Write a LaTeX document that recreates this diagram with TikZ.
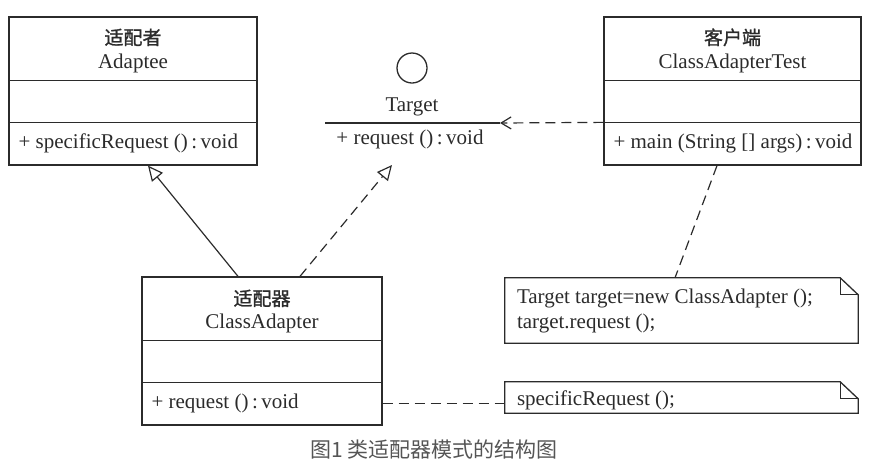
\documentclass[tikz,border=0pt]{standalone}
\usepackage{fontspec}
\setmainfont{Liberation Serif}
\newfontfamily\cjk{Noto Sans CJK SC}
\newfontfamily\cjktitle{Noto Sans CJK SC}[FakeBold=1.2]
\usetikzlibrary{arrows.meta,calc,positioning}
\definecolor{umlInk}{HTML}{2B2B2B}
\definecolor{umlCap}{HTML}{555555}
\tikzset{
  umlbox/.style={draw=umlInk,line width=1.3pt,minimum height=148pt,inner sep=0pt},
  umlsep/.style={draw=umlInk,line width=1.3pt},
  umlcn/.style={font=\cjktitle\fontsize{19}{22}\selectfont,text=umlInk,inner sep=1pt},
  umlname/.style={font=\fontsize{21}{25}\selectfont,text=umlInk,inner sep=1pt},
  umlop/.style={umlname,anchor=west},
  umlinherit/.style={-{Triangle[open,length=15pt,width=14pt]},line width=1.2pt,umlInk},
  umlrealize/.style={umlinherit,dash pattern=on 10pt off 6pt},
  umldepend/.style={-{Straight Barb[length=10pt,width=12pt]},line width=1.2pt,umlInk,
                    dash pattern=on 10pt off 6pt},
  umlanchor/.style={line width=1.2pt,umlInk,dash pattern=on 10pt off 6pt},
  umlnote/.style={minimum width=353pt,inner sep=0pt},
  umlcaption/.style={font=\cjk\fontsize{21}{25}\selectfont,text=umlCap}
}

\begin{document}
\begin{tikzpicture}[x=1pt,y=-1pt]
  \useasboundingbox (0,0) rectangle (870,475);

  % adaptee
  \node[umlbox,minimum width=248pt] (adaptee) at (133,91) {};
  \draw[umlsep] ($(adaptee.north west)+(0,64)$) -- ($(adaptee.north east)+(0,64)$);
  \draw[umlsep] ($(adaptee.north west)+(0,106)$) -- ($(adaptee.north east)+(0,106)$);
  \node[umlcn] (adapteecn) at ($(adaptee.north)+(0,21)$) {适配者};
  \node[umlname] (adapteename) at ($(adaptee.north)+(0,47)$) {Adaptee};
  \node[umlop] (adapteeop) at ($(adaptee.north west)+(9,127)$)
    {+ specificRequest ()\,:\,void};

  % target interface (lollipop)
  \node[circle,draw=umlInk,line width=1.3pt,minimum size=30pt,inner sep=0pt]
    (tgtball) at (412,68) {};
  \node[umlname] (tgtname) at (412,107) {Target};
  \coordinate (tgtleft) at (325,123);
  \coordinate (tgtright) at (500,123);
  \draw[umlsep] (tgtleft) -- (tgtright);
  \node[umlname] (tgtop) at (410,139) {+ request ()\,:\,void};
  \coordinate (tgtfoot) at (392,165);

  % client
  \node[umlbox,minimum width=257pt] (client) at (732.5,91) {};
  \draw[umlsep] ($(client.north west)+(0,64)$) -- ($(client.north east)+(0,64)$);
  \draw[umlsep] ($(client.north west)+(0,106)$) -- ($(client.north east)+(0,106)$);
  \node[umlcn] (clientcn) at ($(client.north)+(0,21)$) {客户端};
  \node[umlname] (clientname) at ($(client.north)+(0,47)$) {ClassAdapterTest};
  \node[umlop] (clientop) at ($(client.north west)+(9,127)$)
    {+ main (String [] args)\,:\,void};

  % class adapter
  \node[umlbox,minimum width=240pt] (adapter) at (262,351) {};
  \draw[umlsep] ($(adapter.north west)+(0,64)$) -- ($(adapter.north east)+(0,64)$);
  \draw[umlsep] ($(adapter.north west)+(0,106)$) -- ($(adapter.north east)+(0,106)$);
  \node[umlcn] (adaptercn) at ($(adapter.north)+(0,22)$) {适配器};
  \node[umlname] (adaptername) at ($(adapter.north)+(0,47)$) {ClassAdapter};
  \node[umlop] (adapterop) at ($(adapter.north west)+(9,127)$)
    {+ request ()\,:\,void};

  % notes
  \node[umlnote,minimum height=65pt] (note1) at (681.5,310.5) {};
  \node[umlname,anchor=west,align=left] (note1text) at ($(note1.west)+(11,0)$)
    {Target target=new ClassAdapter ();\\target.request ();};
  \node[umlnote,minimum height=31pt] (note2) at (681.5,397.5) {};
  \node[umlname,anchor=west] (note2text) at ($(note2.west)+(11,3)$)
    {specificRequest ();};
  \foreach \n in {note1,note2}{
    \draw[umlsep,line join=miter] (\n.north west) -- ($(\n.north east)+(-18,0)$)
      -- ($(\n.north east)+(0,17)$) -- (\n.south east) -- (\n.south west) -- cycle;
    \draw[umlsep] ($(\n.north east)+(-18,0)$) -- ($(\n.north east)+(-18,17)$)
      -- ($(\n.north east)+(0,17)$);
  }

  % relations
  \draw[umlinherit] ($(adapter.north)+(-24,0)$) -- ($(adaptee.south)+(15,0)$);
  \draw[umlrealize] ($(adapter.north)+(38,0)$) -- (tgtfoot);
  \draw[umldepend] ($(client.north west)+(0,106)$) -- (tgtright);
  \draw[umlanchor] ($(client.south)+(-15.5,0)$) -- ($(note1.north)+(-6.5,0)$);
  \draw[umlanchor] (adapterop.east -| adapter.east) -- (adapterop.east -| note2.west);

  % caption
  \node[umlcaption] (caption) at (434,449) {图1 类适配器模式的结构图};
\end{tikzpicture}
\end{document}
